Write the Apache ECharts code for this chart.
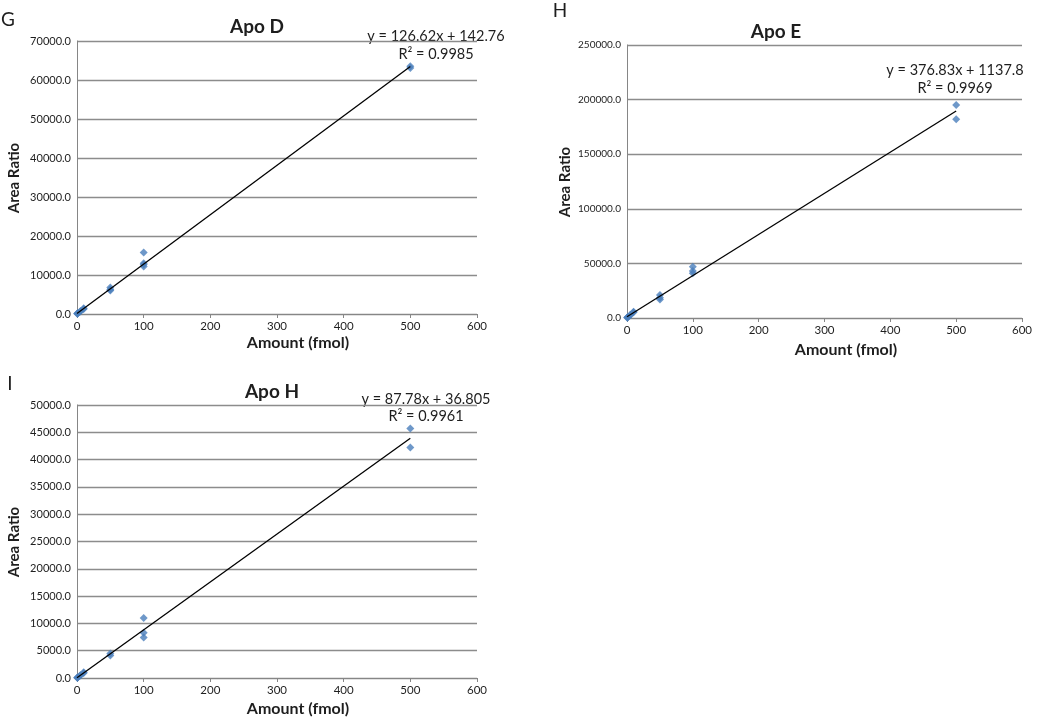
<!DOCTYPE html>
<html><head><meta charset="utf-8">
<script src="https://cdn.jsdelivr.net/npm/echarts@6/dist/echarts.min.js"></script>
<style>html,body{margin:0;padding:0;background:#fff}#c{width:1050px;height:720px}</style>
</head><body><div id="c"></div>
<script>
// Panel G: Apo D
const apoD_x = [0.5, 1, 5, 10, 0.5, 1, 5, 10, 50, 50, 50, 100, 100, 100, 100, 500, 500];
const apoD_y = [80, 150, 650, 1300, 100, 180, 700, 1450, 6000, 6800, 6300, 15800, 13000, 12200, 12700, 63500, 63100];
const apoD_fit = [126.62, 142.76]; // slope, intercept
const apoD_labels = ['y = 126.62x + 142.76', 'R² = 0.9985'];

// Panel H: Apo E
const apoE_x = [0.5, 1, 5, 10, 0.5, 1, 5, 10, 50, 50, 50, 100, 100, 100, 500, 500];
const apoE_y = [300, 600, 2500, 5200, 400, 800, 3000, 5800, 21000, 17000, 18500, 47000, 41000, 43000, 195000, 182000];
const apoE_fit = [376.83, 1137.8];
const apoE_labels = ['y = 376.83x + 1137.8', 'R² = 0.9969'];

// Panel I: Apo H
const apoH_x = [0.5, 1, 5, 10, 0.5, 1, 5, 10, 50, 50, 100, 100, 100, 500, 500];
const apoH_y = [40, 90, 450, 900, 60, 110, 500, 1050, 4500, 4100, 11000, 8300, 7400, 45700, 42200];
const apoH_fit = [87.78, 36.805];
const apoH_labels = ['y = 87.78x + 36.805', 'R² = 0.9961'];

const panelLetters = ['G', 'H', 'I'];
const panelTitles = ['Apo D', 'Apo E', 'Apo H'];
const xTitle = 'Amount (fmol)';
const yTitle = 'Area Ratio';
const xTicks = [0, 100, 200, 300, 400, 500, 600];
const yMax = [70000, 250000, 50000];
const yStep = [10000, 50000, 5000];

const FONT = 'Lato';
const TXT = '#1e1e1e';
const grids = [
  {left: 77, top: 41, width: 400, height: 273},
  {left: 627, top: 45, width: 395, height: 273},
  {left: 77, top: 405, width: 400, height: 273}
];
const yLabelSize = [11, 10, 11];

const datasets = [[apoD_x, apoD_y, apoD_fit], [apoE_x, apoE_y, apoE_fit], [apoH_x, apoH_y, apoH_fit]];

const xAxes = [], yAxes = [], series = [];
grids.forEach((g, i) => {
  xAxes.push({
    type: 'value', gridIndex: i, min: xTicks[0], max: xTicks[xTicks.length - 1], interval: xTicks[1] - xTicks[0],
    axisLine: {lineStyle: {color: '#868686'}},
    axisTick: {show: true, length: 4, lineStyle: {color: '#868686'}},
    axisLabel: {fontFamily: FONT, fontSize: 11.5, color: TXT, margin: 6},
    splitLine: {show: false}
  });
  yAxes.push({
    type: 'value', gridIndex: i, min: 0, max: yMax[i], interval: yStep[i],
    axisLine: {show: true, lineStyle: {color: '#868686'}},
    axisTick: {show: false},
    axisLabel: {fontFamily: FONT, fontSize: yLabelSize[i], color: TXT, margin: 6,
      formatter: v => v.toFixed(1)},
    splitLine: {show: true, lineStyle: {color: '#8c8c8c', width: 1.3}}
  });
  const [xs, ys, fit] = datasets[i];
  series.push({
    type: 'scatter', xAxisIndex: i, yAxisIndex: i, symbol: 'diamond', symbolSize: 8,
    itemStyle: {color: '#4a7ebb'}, z: 3,
    data: xs.map((x, k) => [x, ys[k]])
  });
  const xmax = Math.max(...xs);
  series.push({
    type: 'line', xAxisIndex: i, yAxisIndex: i, symbol: 'none', silent: true, z: 4,
    lineStyle: {color: '#000', width: 1.3},
    data: [[0, fit[1]], [xmax, fit[0] * xmax + fit[1]]]
  });
});

const labelSets = [apoD_labels, apoE_labels, apoH_labels];
const letterPos = [[1, 20], [553, 11], [3, 384]];
const titlePos = [[257, 27], [776, 32], [272, 392]];
const eqPos = [[436, 36, 54], [955, 70, 88], [426, 399, 416]];
const xTitlePos = [[298, 343], [846, 350], [298, 709]];
const yTitlePos = [[14, 178], [565, 182], [14, 542]];

const graphic = [];
const txt = (x, y, text, size, bold, rot) => ({
  type: 'text', x: x, y: y, rotation: rot || 0,
  style: {text: text, font: (bold ? 'bold ' : '') + size + 'px ' + FONT, fill: TXT,
    textAlign: 'center', textVerticalAlign: 'middle'}
});
for (let i = 0; i < 3; i++) {
  graphic.push(txt(letterPos[i][0] + 7, letterPos[i][1], panelLetters[i], 19, false));
  graphic.push(txt(titlePos[i][0], titlePos[i][1], panelTitles[i], 19, true));
  graphic.push(txt(eqPos[i][0], eqPos[i][1], labelSets[i][0], 14.5, false));
  graphic.push(txt(eqPos[i][0], eqPos[i][2], labelSets[i][1], 14.5, false));
  graphic.push(txt(xTitlePos[i][0], xTitlePos[i][1], xTitle, 16, true));
  graphic.push(txt(yTitlePos[i][0], yTitlePos[i][1], yTitle, 15, true, Math.PI / 2));
}

const chart = echarts.init(document.getElementById('c'), null, {renderer: 'canvas'});
chart.setOption({
  animation: false,
  backgroundColor: '#fff',
  grid: grids,
  xAxis: xAxes,
  yAxis: yAxes,
  series: series,
  graphic: graphic
});
</script></body></html>
